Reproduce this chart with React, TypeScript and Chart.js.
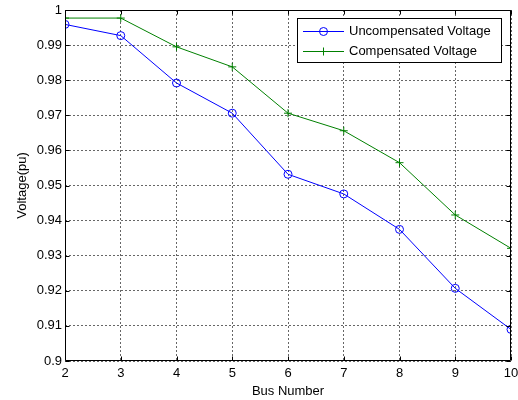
import React, { useEffect, useRef } from "react";
import { Chart, registerables } from "chart.js";

Chart.register(...registerables);

const busNumbers = [2, 3, 4, 5, 6, 7, 8, 9, 10];
const uncompensatedVoltage = [0.9959, 0.9927, 0.9792, 0.9706, 0.9532, 0.9476, 0.9375, 0.9207, 0.909];
const compensatedVoltage = [0.9977, 0.9977, 0.9895, 0.9838, 0.9706, 0.9656, 0.9565, 0.9416, 0.9321];
const seriesLabels = ["Uncompensated Voltage", "Compensated Voltage"];
const xTitle = "Bus Number";
const yTitle = "Voltage(pu)";

const BLUE = "rgb(0,0,255)";
const GREEN = "rgb(0,128,0)";
const FONT = "'Liberation Sans', Arial, sans-serif";
const FS = 13;

const boxPlugin = {
  id: "matlabBox",
  afterDraw(chart: any) {
    const { ctx, chartArea } = chart;
    const { left, right, top, bottom } = chartArea;
    const xs = chart.scales.x;
    const ys = chart.scales.y;
    ctx.save();
    ctx.strokeStyle = "#000";
    ctx.lineWidth = 1;
    const L = Math.round(left) + 0.5;
    const R = Math.round(right) - 0.5;
    const T = Math.round(top) + 0.5;
    const B = Math.round(bottom) - 0.5;
    ctx.beginPath();
    ctx.rect(L, T, R - L, B - T);
    ctx.stroke();
    const tl = 4;
    ctx.beginPath();
    xs.ticks.forEach((t: any) => {
      const px = Math.round(xs.getPixelForValue(t.value)) + 0.5;
      ctx.moveTo(px, B);
      ctx.lineTo(px, B - tl);
      ctx.moveTo(px, T);
      ctx.lineTo(px, T + tl);
    });
    ys.ticks.forEach((t: any) => {
      const py = Math.round(ys.getPixelForValue(t.value)) + 0.5;
      ctx.moveTo(L, py);
      ctx.lineTo(L + tl, py);
      ctx.moveTo(R, py);
      ctx.lineTo(R - tl, py);
    });
    ctx.stroke();

    // legend
    const lx = 297.5, ly = 18.5, lw = 204, lh = 44;
    ctx.fillStyle = "#fff";
    ctx.fillRect(lx, ly, lw, lh);
    ctx.strokeStyle = "#000";
    ctx.strokeRect(lx, ly, lw, lh);
    const rows = [
      { y: 31.5, color: BLUE, label: seriesLabels[0], marker: "circle" },
      { y: 51.5, color: GREEN, label: seriesLabels[1], marker: "plus" },
    ];
    rows.forEach((r) => {
      ctx.strokeStyle = r.color;
      ctx.lineWidth = 1;
      ctx.beginPath();
      ctx.moveTo(303, r.y);
      ctx.lineTo(344, r.y);
      ctx.stroke();
      ctx.beginPath();
      if (r.marker === "circle") {
        ctx.arc(323.5, r.y, 4, 0, Math.PI * 2);
      } else {
        ctx.moveTo(323.5, r.y - 4);
        ctx.lineTo(323.5, r.y + 4);
        ctx.moveTo(319.5, r.y);
        ctx.lineTo(327.5, r.y);
      }
      ctx.stroke();
      ctx.fillStyle = "#000";
      ctx.font = `${FS}px ${FONT}`;
      ctx.textBaseline = "middle";
      ctx.textAlign = "left";
      ctx.fillText(r.label, 349, r.y);
    });
    ctx.restore();
  },
};

export default function App() {
  const ref = useRef<HTMLCanvasElement | null>(null);
  useEffect(() => {
    if (!ref.current) return;
    const chart = new Chart(ref.current, {
      type: "line",
      data: {
        datasets: [
          {
            label: seriesLabels[0],
            data: busNumbers.map((b, i) => ({ x: b, y: uncompensatedVoltage[i] })),
            borderColor: BLUE,
            backgroundColor: "transparent",
            borderWidth: 1,
            pointStyle: "circle",
            pointRadius: 4,
            pointBorderColor: BLUE,
            pointBackgroundColor: "transparent",
            pointBorderWidth: 1,
            tension: 0,
          },
          {
            label: seriesLabels[1],
            data: busNumbers.map((b, i) => ({ x: b, y: compensatedVoltage[i] })),
            borderColor: GREEN,
            backgroundColor: "transparent",
            borderWidth: 1,
            pointStyle: "cross",
            pointRadius: 4,
            pointBorderColor: GREEN,
            pointBorderWidth: 1,
            tension: 0,
          },
        ],
      },
      options: {
        responsive: false,
        animation: false,
        layout: { padding: { top: 10, right: 7, left: 0, bottom: 0 } },
        plugins: { legend: { display: false }, tooltip: { enabled: false } },
        scales: {
          x: {
            type: "linear",
            min: 2,
            max: 10,
            afterFit: (s: any) => { s.height = 39; s.paddingLeft = 0; s.paddingRight = 0; },
            ticks: { stepSize: 1, color: "#000", padding: 5, font: { family: FONT, size: FS } },
            grid: { color: "#666", drawTicks: false, lineWidth: 1 },
            border: { display: false, dash: [2, 2] },
            title: { display: true, text: xTitle, color: "#000", font: { family: FONT, size: FS }, padding: { top: 0, bottom: 1 } },
          },
          y: {
            type: "linear",
            min: 0.9,
            max: 1,
            afterFit: (s: any) => { s.width = 65; s.paddingTop = 0; s.paddingBottom = 0; },
            ticks: {
              stepSize: 0.01,
              color: "#000",
              padding: 3,
              font: { family: FONT, size: FS },
              callback: (v: any) => String(Number(Number(v).toFixed(2))),
            },
            grid: { color: "#666", drawTicks: false, lineWidth: 1 },
            border: { display: false, dash: [2, 2] },
            title: { display: true, text: yTitle, color: "#000", font: { family: FONT, size: FS }, padding: { top: 15, bottom: 0 } },
          },
        },
      },
      plugins: [boxPlugin],
    } as any);
    return () => chart.destroy();
  }, []);
  return (
    <div style={{ position: "absolute", left: 0, top: 0, width: 518, height: 400, background: "#fff" }}>
      <canvas ref={ref} width={518} height={400} style={{ display: "block" }} />
    </div>
  );
}
